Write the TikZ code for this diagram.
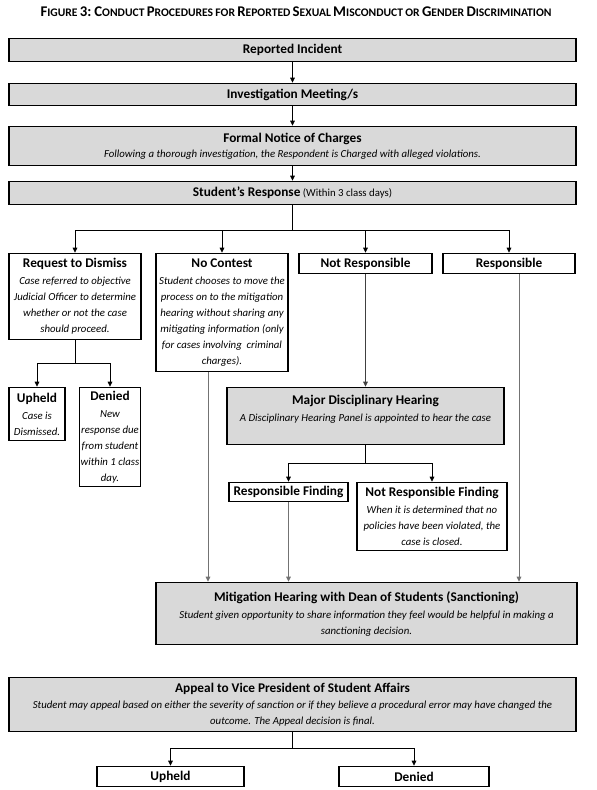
\documentclass[tikz,border=0pt]{standalone}
\usepackage{fontspec}
\setmainfont{Carlito}
\usepackage{xcolor}
\usepackage{tikz}
\usetikzlibrary{arrows.meta, positioning}

\definecolor{boxgray}{RGB}{217,217,217}
\definecolor{linegray}{RGB}{115,115,115}

\newcommand\boxtitle[1]{{\fontsize{13.3}{16}\selectfont\bfseries #1}}
\newcommand\capword[2]{{\fontsize{14.8}{16}\selectfont #1}{\fontsize{11.6}{16}\selectfont #2}}

\begin{document}
\begin{tikzpicture}[
        x=1pt, y=-1pt,
        font=\fontsize{10.8}{16}\selectfont,
        >={Triangle[length=5pt,width=4.6pt]},
        box/.style={draw=black, line width=1.6pt, align=center, inner sep=1pt},
        graybox/.style={box, fill=boxgray},
        whitebox/.style={box, fill=white},
        link/.style={->, line width=0.8pt, black},
        longlink/.style={->, line width=1pt, linegray},
    ]

    % --- PAGE FRAME ---
    \useasboundingbox (0,0) rectangle (597,790);

    % Title
    \node[font=\bfseries] (title) at (296,12)
        {\capword{F}{IGURE} \capword{3:}{} \capword{C}{ONDUCT} \capword{P}{ROCEDURES} \capword{}{FOR} \capword{R}{EPORTED} \capword{S}{EXUAL} \capword{M}{ISCONDUCT} \capword{}{OR} \capword{G}{ENDER} \capword{D}{ISCRIMINATION}};

    % Main column
    \node[graybox, minimum width=567, minimum height=23] (incident) at (292.5,50)
        {\boxtitle{Reported Incident}};
    \node[graybox, minimum width=567, minimum height=22] (meeting) at (292.5,94.5)
        {\boxtitle{Investigation Meeting/s}};
    \node[graybox, minimum width=567, minimum height=39] (notice) at (292.5,146)
        {\boxtitle{Formal Notice of Charges}\\[-1pt]
         \itshape Following a thorough investigation, the Respondent is Charged with alleged violations.};
    \node[graybox, minimum width=567, minimum height=23] (response) at (292.5,193)
        {\boxtitle{Student’s Response} (Within 3 class days)};

    % Four responses
    \node[whitebox, minimum width=132, minimum height=86] (dismiss) at (75,296.5)
        {\boxtitle{Request to Dismiss}\\[1pt]
         \itshape Case referred to objective\\ \itshape Judicial Officer to determine\\
         \itshape whether or not the case\\ \itshape should proceed.};
    \node[whitebox, minimum width=132, minimum height=118] (contest) at (222,312.5)
        {\boxtitle{No Contest}\\[1pt]
         \itshape Student chooses to move the\\ \itshape process on to the mitigation\\
         \itshape hearing without sharing any\\ \itshape mitigating information (only\\
         \itshape for cases involving \ criminal\\ \itshape charges).};
    \node[whitebox, minimum width=133, minimum height=20] (notresp) at (365.5,263.5)
        {\boxtitle{Not Responsible}};
    \node[whitebox, minimum width=132, minimum height=20] (resp) at (509,263.5)
        {\boxtitle{Responsible}};

    % Outcomes of the request to dismiss
    \node[whitebox, minimum width=56, minimum height=53] (upheld) at (37,414)
        {\boxtitle{Upheld}\\[1pt] \itshape Case is\\ \itshape Dismissed.};
    \node[whitebox, minimum width=60, minimum height=99] (denied) at (110,437)
        {\boxtitle{Denied}\\[1pt] \itshape New\\ \itshape response due\\
         \itshape from student\\ \itshape within 1 class\\ \itshape day.};

    % Major disciplinary hearing
    \node[graybox, minimum width=277, minimum height=57] (major) at (365.5,416)
        {\boxtitle{Major Disciplinary Hearing}\\[1pt]
         \itshape A Disciplinary Hearing Panel is appointed to hear the case\\ \mbox{}};
    \node[whitebox, minimum width=119, minimum height=19] (respfind) at (288.5,492)
        {\boxtitle{Responsible Finding}};
    \node[whitebox, minimum width=150, minimum height=68] (notrespfind) at (432,516.5)
        {\boxtitle{Not Responsible Finding}\\[1pt]
         \itshape When it is determined that no\\ \itshape policies have been violated, the\\
         \itshape case is closed.};

    % Mitigation and appeal
    \node[graybox, minimum width=421, minimum height=62] (mitigation) at (366.5,613.5)
        {\boxtitle{Mitigation Hearing with Dean of Students (Sanctioning)}\\[1pt]
         \itshape Student given opportunity to share information they feel would be helpful in making a\\
         \itshape sanctioning decision.};
    \node[graybox, minimum width=567, minimum height=54] (appeal) at (292.5,704.5)
        {\boxtitle{Appeal to Vice President of Student Affairs}\\[0pt]
         \itshape Student may appeal based on either the severity of sanction or if they believe a procedural error may have changed the\\
         \itshape outcome. The Appeal decision is final.};
    \node[whitebox, minimum width=147, minimum height=20] (upheldfinal) at (170.5,776.5)
        {\boxtitle{Upheld}};
    \node[whitebox, minimum width=150, minimum height=20] (deniedfinal) at (414,776.5)
        {\boxtitle{Denied}};

    % Connectors - main column
    \draw[link] (incident) -- (meeting);
    \draw[link] (meeting) -- (notice);
    \draw[link] (notice) -- (response);

    % Split of the student's response
    \draw[line width=0.8pt] (response.south) -- ++(0,25) coordinate (respsplit);
    \foreach \target in {dismiss, contest, notresp, resp}{
        \draw[link] (respsplit) -| (\target);
    }

    % Split of the request to dismiss
    \draw[line width=0.8pt] (dismiss.south) -- ++(0,23) coordinate (dismisssplit);
    \draw[link] (dismisssplit) -| (upheld);
    \draw[link] (dismisssplit) -| (denied);

    % Not responsible leads to the hearing
    \draw[link, black!75] (notresp) -- (major);

    % Split of the hearing
    \draw[line width=0.8pt] (major.south) -- ++(0,18) coordinate (majorsplit);
    \draw[link] (majorsplit) -| (respfind);
    \draw[link] (majorsplit) -| (notrespfind);

    % Long lines into mitigation
    \draw[longlink] ([xshift=-14]contest.south) -- ([xshift=-14]contest.south |- mitigation.north);
    \draw[longlink] (respfind) -- (respfind |- mitigation.north);
    \draw[longlink] ([xshift=10]resp.south) -- ([xshift=10]resp.south |- mitigation.north);

    % Split of the appeal
    \draw[line width=0.8pt] (appeal.south) -- ++(0,16) coordinate (appealsplit);
    \draw[link] (appealsplit) -| (upheldfinal);
    \draw[link] (appealsplit) -| (deniedfinal);

\end{tikzpicture}
\end{document}
